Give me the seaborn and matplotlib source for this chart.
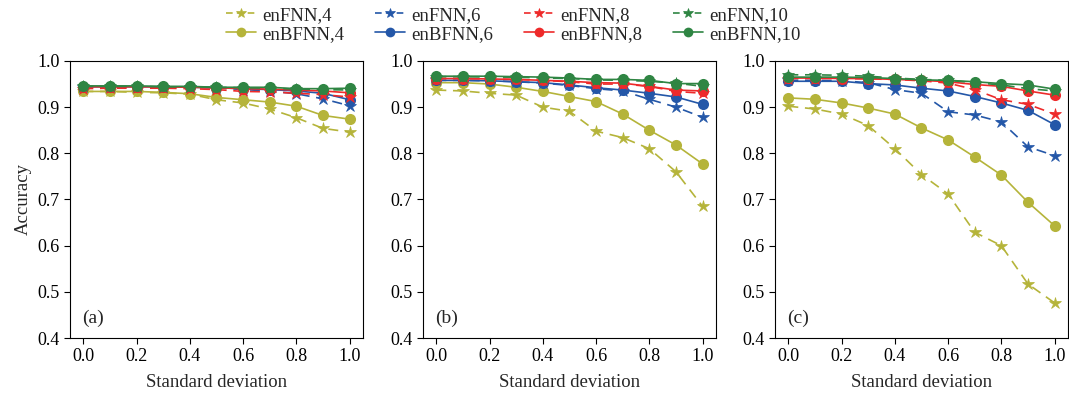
import numpy as np
import pandas as pd
import matplotlib
matplotlib.use("Agg")
import matplotlib.pyplot as plt
import seaborn as sns
from matplotlib.lines import Line2D

sns.set_style("ticks")
plt.rcParams['font.family'] = ['Liberation Serif', 'DejaVu Serif']

std_dev = [0.0, 0.1, 0.2, 0.3, 0.4, 0.5, 0.6, 0.7, 0.8, 0.9, 1.0]
panel_labels = ["(a)", "(b)", "(c)"]

# Panel (a)
a_enFNN4 = [0.934, 0.934, 0.932, 0.931, 0.928, 0.916, 0.909, 0.896, 0.877, 0.854, 0.846]
a_enBFNN4 = [0.934, 0.934, 0.934, 0.932, 0.929, 0.921, 0.916, 0.911, 0.902, 0.882, 0.874]
a_enFNN6 = [0.944, 0.944, 0.944, 0.944, 0.943, 0.942, 0.938, 0.935, 0.929, 0.918, 0.903]
a_enBFNN6 = [0.944, 0.944, 0.944, 0.944, 0.943, 0.942, 0.940, 0.938, 0.935, 0.930, 0.916]
a_enFNN8 = [0.940, 0.941, 0.941, 0.941, 0.940, 0.938, 0.934, 0.933, 0.930, 0.927, 0.922]
a_enBFNN8 = [0.944, 0.944, 0.944, 0.944, 0.943, 0.942, 0.940, 0.939, 0.937, 0.935, 0.931]
a_enFNN10 = [0.945, 0.945, 0.945, 0.944, 0.944, 0.943, 0.942, 0.941, 0.939, 0.938, 0.937]
a_enBFNN10 = [0.946, 0.946, 0.946, 0.945, 0.945, 0.943, 0.943, 0.943, 0.940, 0.940, 0.941]

# Panel (b)
b_enFNN4 = [0.937, 0.935, 0.930, 0.926, 0.900, 0.891, 0.848, 0.834, 0.810, 0.760, 0.685]
b_enBFNN4 = [0.953, 0.953, 0.950, 0.943, 0.934, 0.923, 0.912, 0.885, 0.850, 0.818, 0.777]
b_enFNN6 = [0.958, 0.958, 0.957, 0.955, 0.952, 0.947, 0.940, 0.935, 0.917, 0.900, 0.878]
b_enBFNN6 = [0.958, 0.958, 0.957, 0.955, 0.953, 0.948, 0.942, 0.937, 0.930, 0.922, 0.906]
b_enFNN8 = [0.962, 0.962, 0.961, 0.960, 0.958, 0.955, 0.950, 0.950, 0.945, 0.934, 0.930]
b_enBFNN8 = [0.962, 0.962, 0.961, 0.960, 0.958, 0.956, 0.953, 0.952, 0.945, 0.937, 0.935]
b_enFNN10 = [0.966, 0.966, 0.965, 0.965, 0.963, 0.962, 0.959, 0.958, 0.956, 0.952, 0.945]
b_enBFNN10 = [0.967, 0.967, 0.967, 0.966, 0.965, 0.963, 0.960, 0.960, 0.958, 0.951, 0.951]

# Panel (c)
c_enFNN4 = [0.902, 0.896, 0.885, 0.860, 0.810, 0.754, 0.712, 0.629, 0.600, 0.517, 0.476]
c_enBFNN4 = [0.920, 0.917, 0.909, 0.898, 0.885, 0.855, 0.829, 0.792, 0.753, 0.694, 0.643]
c_enFNN6 = [0.958, 0.958, 0.957, 0.953, 0.938, 0.930, 0.890, 0.883, 0.868, 0.814, 0.795]
c_enBFNN6 = [0.956, 0.956, 0.956, 0.951, 0.948, 0.941, 0.935, 0.923, 0.909, 0.893, 0.862]
c_enFNN8 = [0.962, 0.962, 0.962, 0.961, 0.960, 0.957, 0.952, 0.938, 0.916, 0.906, 0.885]
c_enBFNN8 = [0.963, 0.963, 0.962, 0.962, 0.960, 0.958, 0.955, 0.949, 0.945, 0.935, 0.926]
c_enFNN10 = [0.970, 0.970, 0.969, 0.967, 0.963, 0.960, 0.958, 0.953, 0.948, 0.940, 0.935]
c_enBFNN10 = [0.965, 0.965, 0.965, 0.964, 0.962, 0.959, 0.958, 0.955, 0.951, 0.948, 0.939]

panels = [
    {"enFNN,4": a_enFNN4, "enBFNN,4": a_enBFNN4, "enFNN,6": a_enFNN6, "enBFNN,6": a_enBFNN6,
     "enFNN,8": a_enFNN8, "enBFNN,8": a_enBFNN8, "enFNN,10": a_enFNN10, "enBFNN,10": a_enBFNN10},
    {"enFNN,4": b_enFNN4, "enBFNN,4": b_enBFNN4, "enFNN,6": b_enFNN6, "enBFNN,6": b_enBFNN6,
     "enFNN,8": b_enFNN8, "enBFNN,8": b_enBFNN8, "enFNN,10": b_enFNN10, "enBFNN,10": b_enBFNN10},
    {"enFNN,4": c_enFNN4, "enBFNN,4": c_enBFNN4, "enFNN,6": c_enFNN6, "enBFNN,6": c_enBFNN6,
     "enFNN,8": c_enFNN8, "enBFNN,8": c_enBFNN8, "enFNN,10": c_enFNN10, "enBFNN,10": c_enBFNN10},
]

series_order = ["enFNN,4", "enBFNN,4", "enFNN,6", "enBFNN,6",
                "enFNN,8", "enBFNN,8", "enFNN,10", "enBFNN,10"]
colors = {"4": "#b5b43a", "6": "#2457a8", "8": "#ee2a2a", "10": "#2f8543"}
DASH = (6, 4)

fig = plt.figure(figsize=(10.69, 4.01), dpi=100)
lefts = [0.0655, 0.3957, 0.725]
width = 0.274
bottom, top = 0.157, 0.848
axes = [fig.add_axes([l, bottom, width, top - bottom]) for l in lefts]

handles = []
for pi, ax in enumerate(axes):
    for name in series_order:
        size = name.split(",")[1]
        is_fnn = name.startswith("enFNN")
        vals = panels[pi][name]
        df = pd.DataFrame({"x": std_dev, "y": vals})
        sns.lineplot(data=df, x="x", y="y", ax=ax, color=colors[size],
                     marker="*" if is_fnn else "o",
                     markersize=9 if is_fnn else 8,
                     markeredgewidth=0.5 if is_fnn else 0,
                     markeredgecolor=colors[size],
                     linewidth=1.2, legend=False)
        line = ax.lines[-1]
        if is_fnn:
            line.set_dashes(DASH)
        if pi == 0:
            h = Line2D([], [], color=colors[size],
                       marker="*" if is_fnn else "o",
                       markersize=7,
                       markeredgewidth=0.5 if is_fnn else 0,
                       linewidth=1.2, label=name)
            if is_fnn:
                h.set_dashes((4, 2.5))
            handles.append(h)
    ax.set_xlim(-0.05, 1.05)
    ax.set_ylim(0.4, 1.0)
    ax.set_xticks([0.0, 0.2, 0.4, 0.6, 0.8, 1.0])
    ax.set_xticklabels(["0.0", "0.2", "0.4", "0.6", "0.8", "1.0"])
    ax.set_yticks([0.4, 0.5, 0.6, 0.7, 0.8, 0.9, 1.0])
    ax.set_yticklabels(["0.4", "0.5", "0.6", "0.7", "0.8", "0.9", "1.0"])
    ax.tick_params(labelsize=13, direction="out", length=4, width=0.8, colors="black")
    for sp in ax.spines.values():
        sp.set_visible(True)
        sp.set_color("black")
        sp.set_linewidth(0.8)
    ax.set_xlabel("Standard deviation", fontsize=13.5, labelpad=6)
    ax.set_ylabel("Accuracy" if pi == 0 else "", fontsize=13.5)
    ax.text(0.04, 0.04, panel_labels[pi], transform=ax.transAxes, fontsize=14,
            ha="left", va="bottom")

fig.legend(handles=handles, loc="upper center", bbox_to_anchor=(0.480, 1.025),
           ncol=4, frameon=False, fontsize=13.5, handlelength=1.6,
           columnspacing=1.65, handletextpad=0.32, labelspacing=0.1)

fig.savefig("out.png", dpi=100)
